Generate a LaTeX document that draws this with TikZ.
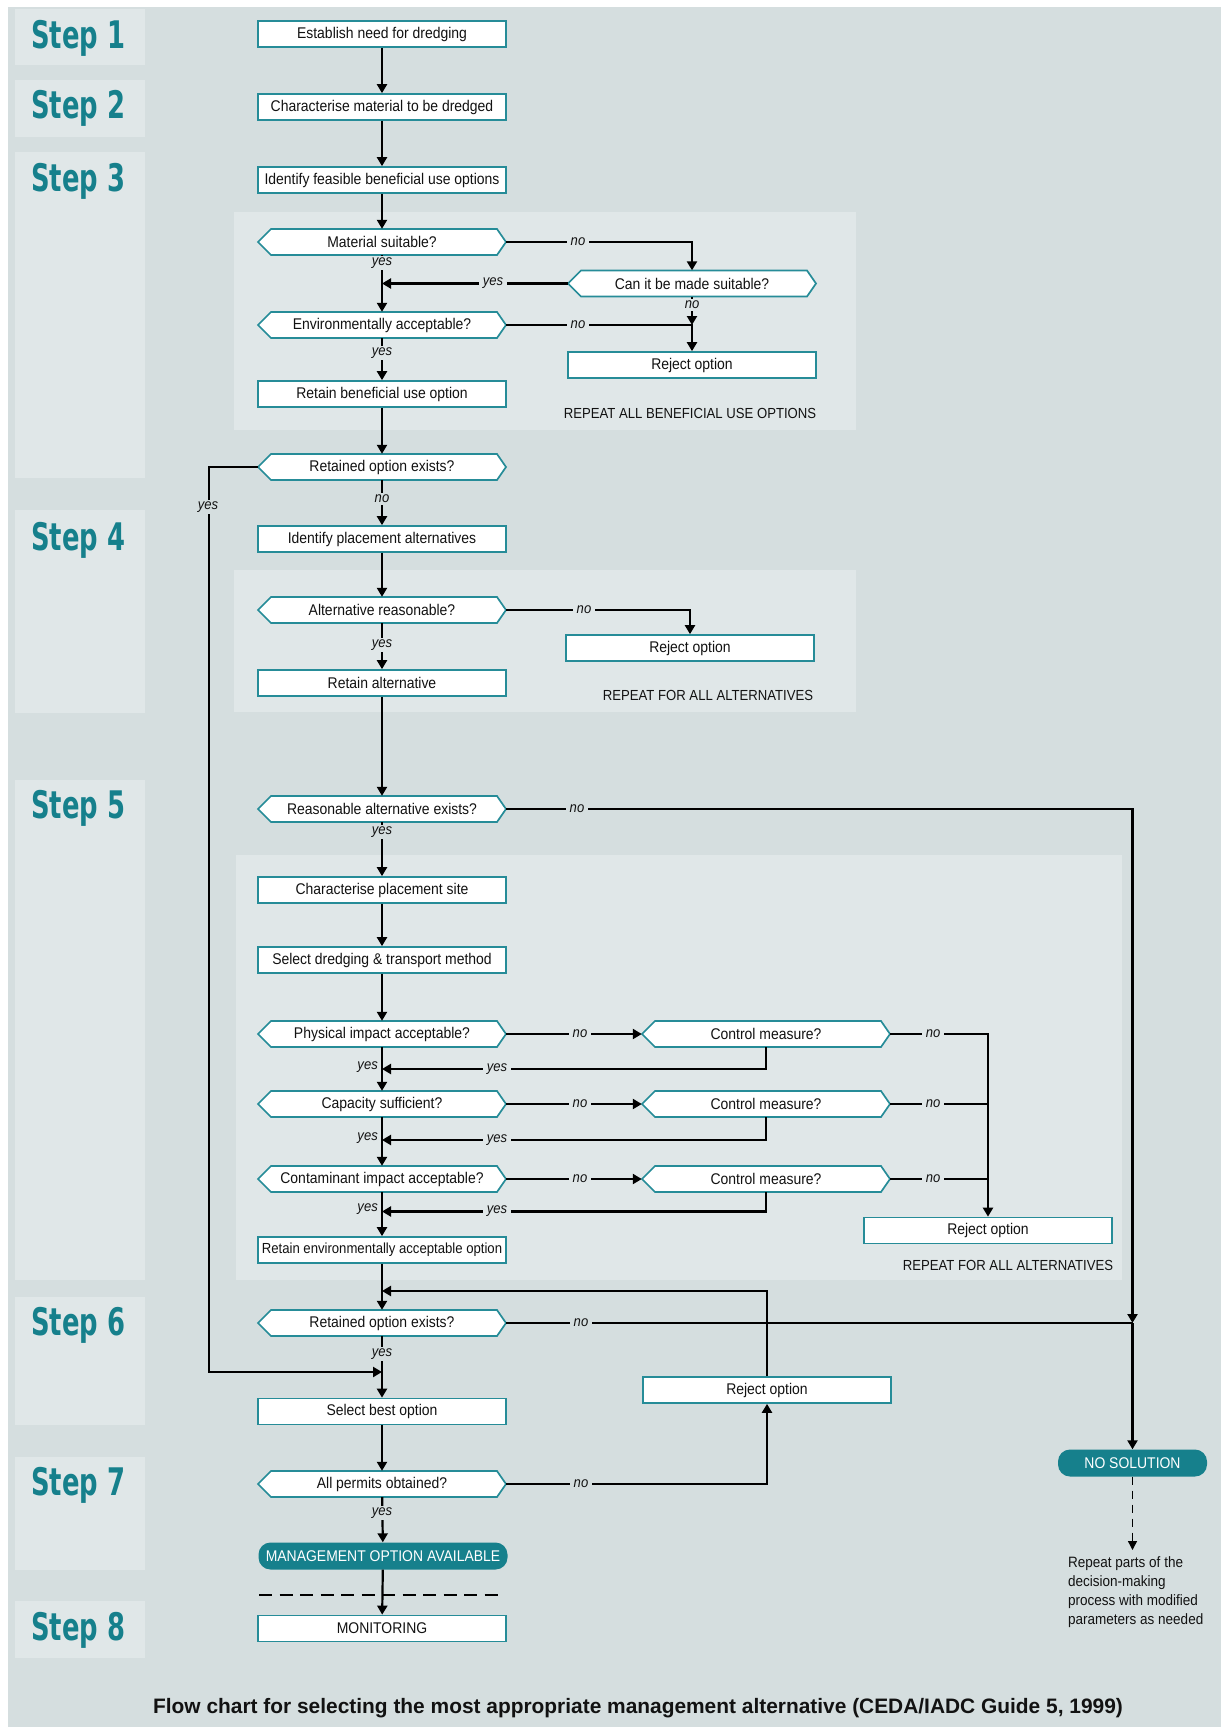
\documentclass[tikz,border=0pt]{standalone}
\usepackage{fontspec}
\setmainfont{Liberation Sans}
\newfontfamily\boxfont[FakeStretch=0.9]{Liberation Sans}
\newfontfamily\stepfont[FakeStretch=0.68]{DejaVu Sans}
\newfontfamily\capfont{Liberation Sans}
\usetikzlibrary{arrows.meta}

\definecolor{pagebg}{RGB}{213,222,223}
\definecolor{panelbg}{RGB}{224,231,232}
\definecolor{tealline}{RGB}{38,140,152}
\definecolor{tealfill}{RGB}{22,128,140}
\definecolor{ink}{RGB}{18,18,18}

\tikzset{
  box/.style={draw=tealline, line width=1.7pt, fill=white, minimum width=248pt,
    minimum height=26pt, inner sep=0pt, text=ink,
    font=\boxfont\fontsize{15.5}{18}\selectfont},
  hexbox/.style={minimum width=248pt, minimum height=26pt, inner sep=0pt, text=ink,
    font=\boxfont\fontsize{15.5}{18}\selectfont},
  hexline/.style={draw=tealline, line width=1.7pt, fill=white},
  pill/.style={fill=tealfill, rounded corners=12pt, minimum width=249pt,
    minimum height=27pt, inner sep=0pt, text=white,
    font=\boxfont\fontsize{15.5}{18}\selectfont},
  arr/.style={line width=2.2pt, -{Triangle[length=9pt,width=10pt]}},
  ln/.style={line width=2.2pt},
  dasharr/.style={line width=1.4pt, dash pattern=on 8pt off 6pt, -{Triangle[length=9pt,width=9pt]}},
  dashrule/.style={line width=2.2pt, dash pattern=on 13pt off 7.5pt},
  yn/.style={font=\boxfont\itshape\fontsize{14.5}{16}\selectfont, inner xsep=4pt, inner ysep=2pt, text=ink},
  ynp/.style={yn, fill=panelbg},
  yno/.style={yn, fill=pagebg},
  note/.style={font=\boxfont\fontsize{14.6}{17}\selectfont, text=ink, inner sep=0pt},
  steplabel/.style={font=\stepfont\bfseries\fontsize{38}{40}\selectfont, text=tealfill,
    anchor=base west, inner sep=0pt},
}

% hexagonal decision node: #2 name, #3 x, #4 y, #5 text
\newcommand\hexnode[5][]{%
  \filldraw[hexline] ({#3-124},{#4}) -- ({#3-111},{#4-13}) -- ({#3+115},{#4-13})
    -- ({#3+124},{#4}) -- ({#3+115},{#4+13}) -- ({#3-111},{#4+13}) -- cycle;
  \node[hexbox,#1] (#2) at (#3,#4) {#5};%
}

\begin{document}
\begin{tikzpicture}[x=1pt,y=-1pt]
\useasboundingbox (0,0) rectangle (1229,1727);
\fill[white] (0,0) rectangle (1229,1727);
\fill[pagebg] (8,7) rectangle (1221,1727);

% step column panels
\foreach \a/\b in {9/65, 80/137, 152/478, 510/713, 780/1280, 1297/1425, 1457/1570, 1601/1658}
  \fill[panelbg] (15,\a) rectangle (145,\b);
% grouped areas
\fill[panelbg] (234,212) rectangle (856,430);
\fill[panelbg] (234,570) rectangle (856,712);
\fill[panelbg] (236,855) rectangle (1122,1280);

% step labels
\node[steplabel] (s1) at (31,48) {Step 1};
\node[steplabel] (s2) at (31,118) {Step 2};
\node[steplabel] (s3) at (31,191) {Step 3};
\node[steplabel] (s4) at (31,550) {Step 4};
\node[steplabel] (s5) at (31,818) {Step 5};
\node[steplabel] (s6) at (31,1335) {Step 6};
\node[steplabel] (s7) at (31,1495) {Step 7};
\node[steplabel] (s8) at (31,1640) {Step 8};

% nodes
\node[box] (n1) at (382,34) {Establish need for dredging};
\node[box] (n2) at (382,107) {Characterise material to be dredged};
\node[box] (n3) at (382,180) {Identify feasible beneficial use options};
\hexnode{d1}{382}{242}{Material suitable?}
\hexnode{d2}{692}{283.5}{Can it be made suitable?}
\hexnode{d3}{382}{325}{Environmentally acceptable?}
\node[box] (r1) at (692,365) {Reject option};
\node[box] (n4) at (382,394) {Retain beneficial use option};
\node[note] (t1) at (690,413) {REPEAT ALL BENEFICIAL USE OPTIONS};
\hexnode{d4}{382}{467}{Retained option exists?}
\node[box] (n5) at (382,539) {Identify placement alternatives};
\hexnode{d5}{382}{610}{Alternative reasonable?}
\node[box] (r2) at (690,648) {Reject option};
\node[box] (n6) at (382,683) {Retain alternative};
\node[note] (t2) at (708,695) {REPEAT FOR ALL ALTERNATIVES};
\hexnode{d6}{382}{809}{Reasonable alternative exists?}
\node[box] (n7) at (382,890) {Characterise placement site};
\node[box] (n8) at (382,960) {Select dredging \& transport method};
\hexnode{d7}{382}{1034}{Physical impact acceptable?}
\hexnode{c1}{766}{1034}{Control measure?}
\hexnode{d8}{382}{1104}{Capacity sufficient?}
\hexnode{c2}{766}{1104}{Control measure?}
\hexnode{d9}{382}{1179}{Contaminant impact acceptable?}
\hexnode{c3}{766}{1179}{Control measure?}
\node[box] (r3) at (988,1230.5) {Reject option};
\node[box, font=\boxfont\fontsize{14.6}{17}\selectfont] (n9) at (382,1250) {Retain environmentally acceptable option};
\node[note] (t3) at (1008,1265) {REPEAT FOR ALL ALTERNATIVES};
\hexnode{d10}{382}{1323}{Retained option exists?}
\node[box] (r4) at (767,1390) {Reject option};
\node[box] (n10) at (382,1411.5) {Select best option};
\hexnode{d11}{382}{1484}{All permits obtained?}
\node[pill] (m1) at (383,1556) {MANAGEMENT OPTION AVAILABLE};
\node[box] (n11) at (382,1628.5) {MONITORING};
\node[pill, minimum width=149pt] (ns) at (1132.5,1463) {NO SOLUTION};
\node[note, font=\boxfont\fontsize{15}{19}\selectfont, align=left, anchor=north west] (rp) at (1068,1556)
  {Repeat parts of the\\decision-making\\process with modified\\parameters as needed};

% junction points
\coordinate (jy1) at (d1.south |- d2.west);
\coordinate (jn1) at (d2.south |- d3.east);
\coordinate (lp1) at (209,467);
\coordinate (lp2) at (209,1372);
\coordinate (lp3) at (382,1372);
\coordinate (ns1) at (ns.north |- d6.east);
\coordinate (ns2) at (ns.north |- d10.east);
\coordinate (rj1) at (r3.north |- c1.east);
\coordinate (rj2) at (r3.north |- c2.east);
\coordinate (rj3) at (r3.north |- c3.east);
\coordinate (y1a) at (766,1069);
\coordinate (y1b) at (382,1069);
\coordinate (y2a) at (766,1140);
\coordinate (y2b) at (382,1140);
\coordinate (y3a) at (766,1211.5);
\coordinate (y3b) at (382,1211.5);
\coordinate (rb1) at (767,1291);
\coordinate (rb2) at (382,1291);
\coordinate (dl1) at (259,1595);
\coordinate (dl2) at (505,1595);
\coordinate (nsend) at (1132.5,1550);

% connectors
\draw[arr] (n1) -- (n2);
\draw[arr] (n2) -- (n3);
\draw[arr] (n3) -- (d1);
\draw[arr] (d1) -- (d3);
\draw[arr] (d1.east) -| (d2.north);
\draw[arr] (d2.west) -- (jy1);
\draw[arr] (d2.south) -- (jn1);
\draw[arr] (d3.east) -| (r1.north);
\draw[arr] (d3) -- (n4);
\draw[arr] (n4) -- (d4);
\draw[arr] (d4) -- (n5);
\draw[arr] (d4.west) -- (lp1) -- (lp2) -- (lp3);
\draw[arr] (n5) -- (d5);
\draw[arr] (d5) -- (n6);
\draw[arr] (d5.east) -| (r2.north);
\draw[arr] (n6) -- (d6);
\draw[arr] (d6.east) -- (ns1) -- (ns2);
\draw[ln] (d10.east) -- (ns2);
\draw[arr] (ns2) -- (ns.north);
\draw[arr] (d6) -- (n7);
\draw[arr] (n7) -- (n8);
\draw[arr] (n8) -- (d7);
\draw[arr] (d7) -- (c1);
\draw[arr] (d7) -- (d8);
\draw[arr] (d8) -- (c2);
\draw[arr] (d8) -- (d9);
\draw[arr] (d9) -- (c3);
\draw[arr] (d9) -- (n9);
\draw[arr] (c1.east) -- (rj1) -- (r3.north);
\draw[ln] (c2.east) -- (rj2);
\draw[ln] (c3.east) -- (rj3);
\draw[arr] (c1.south) -- (y1a) -- (y1b);
\draw[arr] (c2.south) -- (y2a) -- (y2b);
\draw[arr] (c3.south) -- (y3a) -- (y3b);
\draw[arr] (n9) -- (d10);
\draw[arr] (r4.north) -- (rb1) -- (rb2);
\draw[arr] (d10) -- (n10);
\draw[arr] (n10) -- (d11);
\draw[arr] (d11.east) -| (r4.south);
\draw[arr] (d11) -- (m1);
\draw[arr] (m1) -- (n11);
\draw[dashrule] (dl1) -- (dl2);
\draw[dasharr] (ns.south) -- (nsend);

% branch labels
\node[ynp] (l1) at (382,263) {yes};
\node[ynp] (l2) at (493,283.5) {yes};
\node[ynp] (l3) at (578,242) {no};
\node[ynp] (l4) at (692,305) {no};
\node[ynp] (l5) at (578,325) {no};
\node[ynp] (l6) at (382,353) {yes};
\node[yno] (l7) at (382,499) {no};
\node[yno] (l8) at (208,507) {yes};
\node[ynp] (l9) at (584,610) {no};
\node[ynp] (l10) at (382,645) {yes};
\node[yno] (l11) at (577,809) {no};
\node[yno] (l12) at (382,832) {yes};
\node[ynp] (l13) at (580,1034) {no};
\node[ynp] (l14) at (580,1104) {no};
\node[ynp] (l15) at (580,1179) {no};
\node[ynp] (l16) at (933,1034) {no};
\node[ynp] (l17) at (933,1104) {no};
\node[ynp] (l18) at (933,1179) {no};
\node[ynp] (l19) at (497,1069) {yes};
\node[ynp] (l20) at (497,1140) {yes};
\node[ynp] (l21) at (497,1211.5) {yes};
\node[yn, anchor=east, inner xsep=1pt] (l22) at (379,1067) {yes};
\node[yn, anchor=east, inner xsep=1pt] (l23) at (379,1138) {yes};
\node[yn, anchor=east, inner xsep=1pt] (l24) at (379,1209) {yes};
\node[yno] (l25) at (581,1323) {no};
\node[yno] (l26) at (382,1354) {yes};
\node[yno] (l27) at (581,1484) {no};
\node[yno] (l28) at (382,1513) {yes};

% caption
\node[font=\capfont\bfseries\fontsize{20.9}{24}\selectfont, text=ink] (cap) at (638,1708)
  {Flow chart for selecting the most appropriate management alternative (CEDA/IADC Guide 5, 1999)};
\end{tikzpicture}
\end{document}
